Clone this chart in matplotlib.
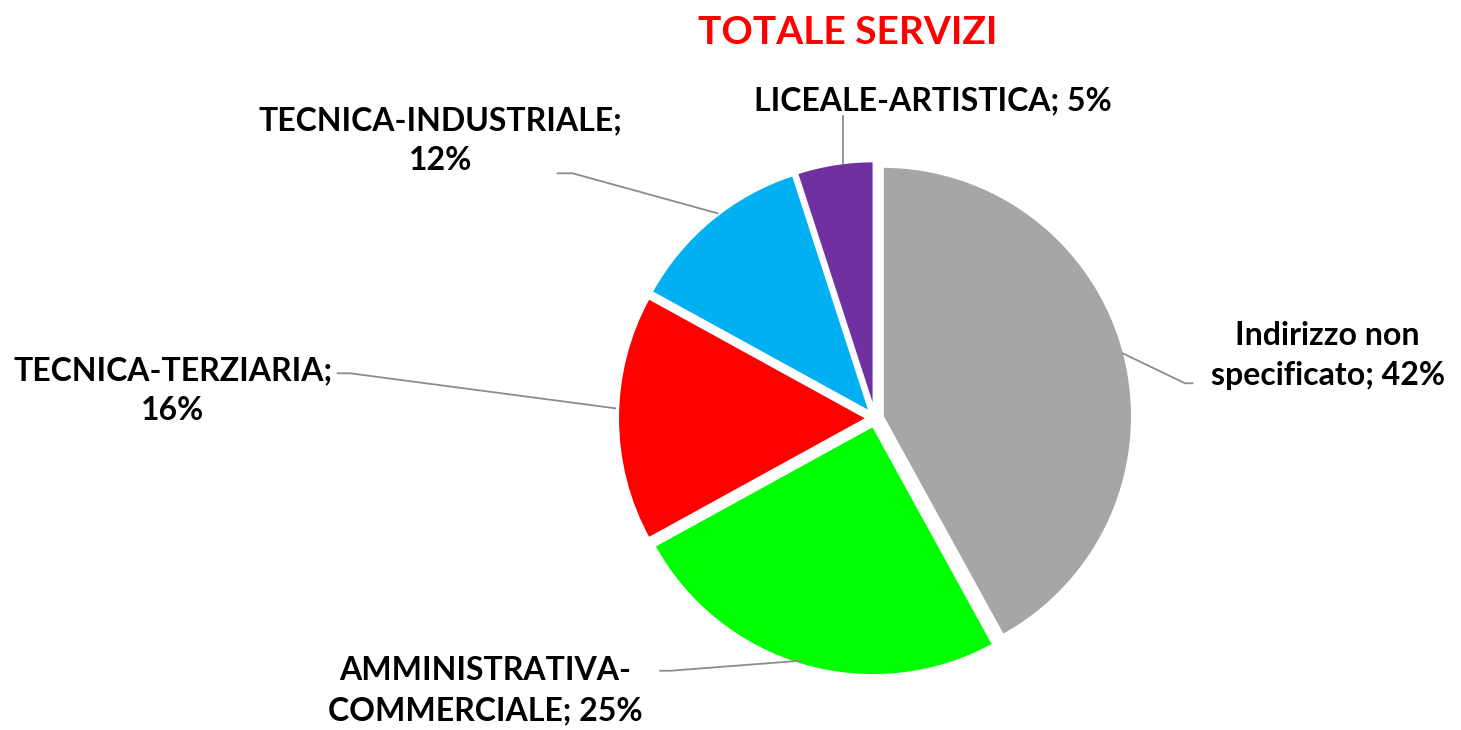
import matplotlib.pyplot as plt

categories = ['Indirizzo non\nspecificato', 'AMMINISTRATIVA-\nCOMMERCIALE', 'TECNICA-TERZIARIA;\n', 'TECNICA-INDUSTRIALE;\n', 'LICEALE-ARTISTICA']
shares = [42, 25, 16, 12, 5]
colors = ['#A6A6A6', '#00FF00', '#FF0000', '#00B0F0', '#7030A0']

plt.rcParams['font.family'] = ['Lato', 'DejaVu Sans']

fig = plt.figure(figsize=(14.61, 7.3), dpi=100)
# axes placed so the pie centre sits at about (876, 420) px with radius ~250 px
ax = fig.add_axes([0.599 - 0.1711, 0.427 - 0.3425, 0.3422, 0.685])
wedges, _ = ax.pie(shares, colors=colors, startangle=90, counterclock=False,
                   explode=[0.03] * 5, radius=1.0,
                   wedgeprops=dict(edgecolor='white', linewidth=2))
ax.set_xlim(-1, 1)
ax.set_ylim(-1, 1)
ax.set_aspect('equal')
ax.axis('off')

labels = [
    'Indirizzo non\nspecificato; %d%%' % shares[0],
    'AMMINISTRATIVA-\nCOMMERCIALE; %d%%' % shares[1],
    'TECNICA-TERZIARIA;\n%d%%' % shares[2],
    'TECNICA-INDUSTRIALE;\n%d%%' % shares[3],
    'LICEALE-ARTISTICA; %d%%' % shares[4],
]
# label centre and leader-line points, in data units of the pie
label_pos = [(1.81, 0.25), (-1.56, -1.09), (-2.81, 0.11), (-1.74, 1.11), (0.23, 1.27)]
leaders = [
    [(0.99, 0.26), (1.24, 0.14), (1.27, 0.14)],
    [(-0.30, -0.97), (-0.82, -1.01), (-0.86, -1.01)],
    [(-1.04, 0.04), (-2.10, 0.18), (-2.15, 0.18)],
    [(-0.63, 0.82), (-1.21, 0.98), (-1.27, 0.98)],
    [(-0.13, 1.02), (-0.13, 1.21)],
]
for txt, (lx, ly), pts in zip(labels, label_pos, leaders):
    xs = [p[0] for p in pts]
    ys = [p[1] for p in pts]
    ax.plot(xs, ys, color='#8C8C8C', lw=1.3, clip_on=False)
    ax.text(lx, ly, txt, ha='center', va='center', fontsize=23,
            fontweight='bold', linespacing=1.45, clip_on=False)

fig.text(0.58, 0.955, 'TOTALE SERVIZI', ha='center', va='center',
         color='#FF0000', fontsize=28, fontweight='bold')

fig.savefig('out.png', dpi=100, facecolor='white')
